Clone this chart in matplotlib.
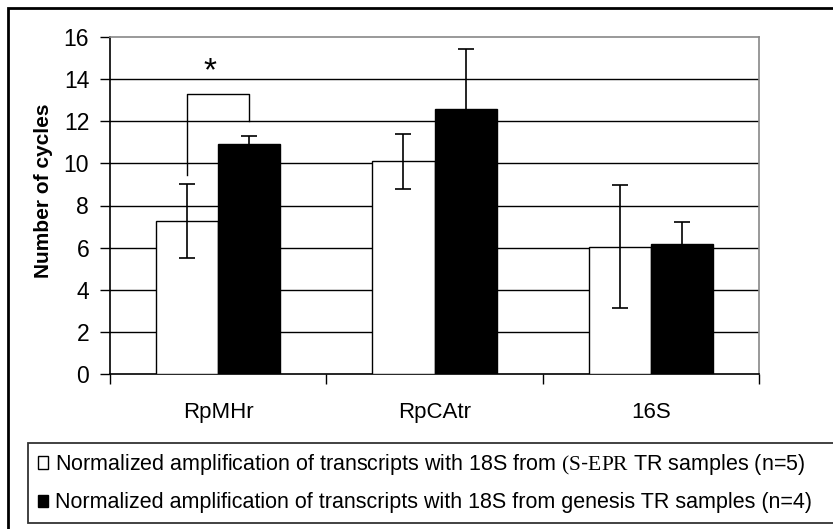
import matplotlib
matplotlib.use("Agg")
import matplotlib.pyplot as plt
from matplotlib.patches import Rectangle
import numpy as np

plt.rcParams['font.family'] = ['Liberation Sans', 'DejaVu Sans']
plt.rcParams['mathtext.fontset'] = 'custom'
plt.rcParams['mathtext.rm'] = 'Liberation Serif'

# Data
categories = ["RpMHr", "RpCAtr", "16S"]
sepr_mean = [7.26, 10.1, 6.05]
sepr_err = [1.75, 1.3, 2.9]
genesis_mean = [10.9, 12.6, 6.15]
genesis_err = [0.4, 2.85, 1.05]
yticks = [0, 2, 4, 6, 8, 10, 12, 14, 16]
label_sepr = r"Normalized amplification of transcripts with 18S from $\mathrm{(S}$-$\mathrm{EPR}$ TR samples (n=5)"
label_genesis = "Normalized amplification of transcripts with 18S from genesis TR samples (n=4)"

# Significance bracket (RpMHr): left foot, top, right foot, star height
bracket_y = [9.45, 13.3, 12.0]
star_y = 14.35

W, H = 833, 529
fig = plt.figure(figsize=(W / 100, H / 100), dpi=100)
ax = fig.add_axes([110 / W, 1 - 374 / H, (759 - 110) / W, (374 - 37) / H])

x = np.arange(len(categories))
bw = 0.287
ek = dict(ecolor='black', elinewidth=1.2, capsize=6, capthick=1.2)
b1 = ax.bar(x - bw / 2, sepr_mean, bw, yerr=sepr_err, color='white',
            edgecolor='black', linewidth=1.0, error_kw=ek, zorder=3,
            label=label_sepr)
b2 = ax.bar(x + bw / 2, genesis_mean, bw, yerr=genesis_err, color='black',
            edgecolor='black', linewidth=1.0, error_kw=ek, zorder=3,
            label=label_genesis)

ax.set_xlim(-0.5, len(categories) - 0.5)
ax.set_ylim(0, 16)
ax.set_yticks(yticks)
ax.set_yticklabels([str(v) for v in yticks], fontsize=16.5)
ax.tick_params(axis='y', direction='out', length=7, width=1.0, pad=8, color='black')

# category labels centred, tick marks at category boundaries
ax.set_xticks(x)
ax.set_xticklabels(categories, fontsize=16)
ax.tick_params(axis='x', which='major', length=0, pad=20)
ax.set_xticks(np.arange(len(categories) + 1) - 0.5, minor=True)
ax.tick_params(axis='x', which='minor', direction='out', length=7, width=1.0)

for v in yticks[1:-1]:
    ax.axhline(v, color='black', linewidth=1.0, zorder=1)

for side in ['top', 'right']:
    ax.spines[side].set_color('#888888')
    ax.spines[side].set_linewidth(1.2)
for side in ['left', 'bottom']:
    ax.spines[side].set_color('black')
    ax.spines[side].set_linewidth(1.2)

ax.set_ylabel("Number of cycles", fontsize=15, fontweight='bold')
ax.yaxis.set_label_coords(-0.088, 0.545)

# significance bracket between the RpMHr bars
xl, xr = x[0] - bw / 2, x[0] + bw / 2
ax.plot([xl, xl, xr, xr], [bracket_y[0], bracket_y[1], bracket_y[1], bracket_y[2]],
        color='black', linewidth=1.0, zorder=4)
ax.text(x[0] - 0.04, star_y, "*", fontsize=24, ha='center', va='center', zorder=4)

# legend below the plot
leg = fig.legend(handles=[b1, b2], loc='lower left',
                 bbox_to_anchor=(28 / W, 6 / H, 1.0, 80 / H),
                 mode='expand', fontsize=15.5, frameon=True, fancybox=False,
                 edgecolor='black', handlelength=0.5, handleheight=0.5,
                 handletextpad=0.3, borderpad=0.45, labelspacing=0.7,
                 borderaxespad=0)
leg.get_frame().set_linewidth(1.3)
for h in leg.legend_handles:
    h.set_linewidth(1.0)
    h.set_edgecolor('black')

# outer frame
fig.patches.append(Rectangle((8 / W, -0.1), 1.2, 1 - 8 / H + 0.1,
                             transform=fig.transFigure, fill=False,
                             edgecolor='black', linewidth=2.0))

fig.savefig("out.png", dpi=100)
